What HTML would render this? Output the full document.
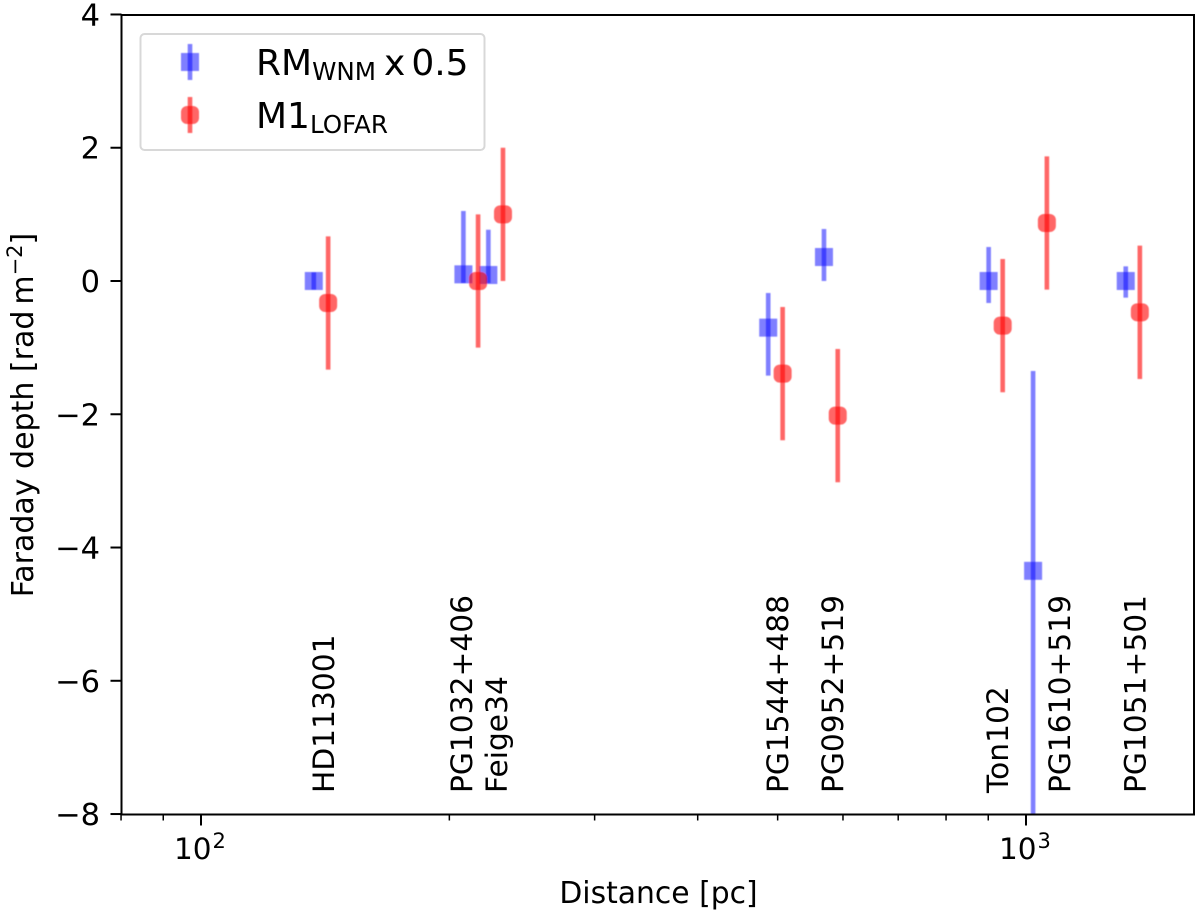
<!DOCTYPE html>
<html lang="en">
<head>
<meta charset="utf-8">
<title>Faraday depth vs distance</title>
<style>
html,body{margin:0;padding:0;background:#fff;width:1200px;height:915px;overflow:hidden}
svg{display:block;font-family:"DejaVu Sans","Liberation Sans",sans-serif}
</style>
</head>
<body>
<svg id="chart" width="1200" height="915" viewBox="0 0 1200 915" xmlns="http://www.w3.org/2000/svg">
  <defs><filter id="soft" filterUnits="userSpaceOnUse" x="0" y="0" width="1200" height="915"><feGaussianBlur stdDeviation="0.45"/></filter></defs>
  <g id="marks" filter="url(#soft)"></g>
  <g id="labels"></g>
  <g id="axes"></g>
  <g id="legend"></g>
</svg>
<script>
const sources = ['HD113001','PG1032+406','Feige34','PG1544+488','PG0952+519','Ton102','PG1610+519','PG1051+501'];
const blueDistance = [137, 208, 223, 487, 569, 901, 1020, 1321];
const blueValue = [0.0, 0.1, 0.09, -0.7, 0.36, 0.0, -4.35, 0.0];
const blueLow = [-0.13, -0.03, -0.03, -1.42, 0.0, -0.33, -9, -0.25];
const blueHigh = [0.13, 1.05, 0.77, -0.18, 0.78, 0.51, -1.35, 0.22];
const redDistance = [142.6, 216.7, 232.3, 507, 591.3, 937, 1060, 1374];
const redValue = [-0.33, 0.0, 1.0, -1.39, -2.02, -0.67, 0.87, -0.47];
const redError = [1, 1, 1, 1, 1, 1, 1, 1];
const labelOffset = [20, 8.6, 18.6, 20, 19, 19.4, 37, 20];
const yTicks = [4, 2, 0, -2, -4, -6, -8];
const xMajorTicks = [100, 1000];
const xMajorLabels = ['2', '3'];
const xMinorTicks = [80, 90, 200, 300, 400, 500, 600, 700, 800, 900];

const NS = 'http://www.w3.org/2000/svg';
const L = 121.5, R = 1194, T = 15, B = 814.5;
const xScale = d => 201 + 825 * (Math.log10(d) - 2);
const yScale = v => 281 - 66.63 * v;
function make(tag, attrs, parent, text) {
  const el = document.createElementNS(NS, tag);
  for (const k in attrs) el.setAttribute(k, attrs[k]);
  if (text !== undefined) el.textContent = text;
  parent.appendChild(el);
  return el;
}
const marks = document.getElementById('marks');
const labels = document.getElementById('labels');
const axes = document.getElementById('axes');
const legend = document.getElementById('legend');
const clipBottom = v => Math.min(yScale(v), B);

blueDistance.forEach((d, i) => {
  const x = xScale(d);
  const bar = make('line', {x1: x, x2: x, y1: clipBottom(blueLow[i]), y2: yScale(blueHigh[i]), stroke: '#0000ff', 'stroke-opacity': 0.5, 'stroke-width': 4.6}, marks);
  
  
  const pt = make('rect', {x: x - 9, y: yScale(blueValue[i]) - 9, width: 18, height: 18, fill: '#0000ff', 'fill-opacity': 0.5}, marks);
  
  
});
redDistance.forEach((d, i) => {
  const x = xScale(d);
  const bar = make('line', {x1: x, x2: x, y1: yScale(redValue[i] - redError[i]), y2: yScale(redValue[i] + redError[i]), stroke: '#ff0000', 'stroke-opacity': 0.6, 'stroke-width': 4.6}, marks);
  
  
  const pt = make('rect', {x: x - 9, y: yScale(redValue[i]) - 9, width: 18, height: 18, rx: 6, ry: 6, fill: '#ff0000', 'fill-opacity': 0.6}, marks);
  
  
});
sources.forEach((s, i) => {
  const x = xScale(blueDistance[i]) + labelOffset[i];
  const t = make('text', {transform: `translate(${x} 793) rotate(-90)`, 'font-size': 29.7, fill: '#000'}, labels, s);
  
  
});

const frame = make('rect', {x: L, y: T, width: R - L, height: B - T, fill: 'none', stroke: '#000', 'stroke-width': 2}, axes);



yTicks.forEach(v => {
  const y = yScale(v);
  const tick = make('line', {x1: L - 11, x2: L, y1: y, y2: y, stroke: '#000', 'stroke-width': 2}, axes);
  
  
  const lab = make('text', {x: 100, y: y + 11, 'text-anchor': 'end', 'font-size': 30.5, fill: '#000'}, axes, v < 0 ? '\u2212' + Math.abs(v) : String(v));
  
  
});
xMajorTicks.forEach((d, i) => {
  const x = xScale(d);
  const tick = make('line', {x1: x, x2: x, y1: B, y2: B + 11, stroke: '#000', 'stroke-width': 2}, axes);
  
  
  const lab = make('text', {x: x - 27, y: 859, 'font-size': 29.5, fill: '#000'}, axes, '10');
  
  
  const sup = make('text', {x: x + 11.5, y: 848, 'font-size': 21, fill: '#000'}, axes, xMajorLabels[i]);
  
  
});
xMinorTicks.forEach(d => {
  const x = xScale(d);
  const tick = make('line', {x1: x, x2: x, y1: B, y2: B + 6, stroke: '#000', 'stroke-width': 1.5}, axes);
  
  
});

const xTitle = make('text', {x: 658.5, y: 903, 'text-anchor': 'middle', 'font-size': 29.8, fill: '#000'}, axes, 'Distance [pc]');



const yTitle = make('text', {transform: 'translate(33 415) rotate(-90)', 'text-anchor': 'middle', 'font-size': 30, fill: '#000'}, axes);


make('tspan', {}, yTitle, 'Faraday depth [rad\u2009m');
make('tspan', {dy: -11, 'font-size': 21}, yTitle, '\u22122');
make('tspan', {dy: 11}, yTitle, ']');

const box = make('rect', {x: 140.5, y: 34, width: 344, height: 116, rx: 4, ry: 4, fill: '#fff', stroke: '#d8d8d8', 'stroke-width': 2}, legend);



const lb1 = make('line', {x1: 190, x2: 190, y1: 44, y2: 80, stroke: '#0000ff', 'stroke-opacity': 0.5, 'stroke-width': 4.6, filter: 'url(#soft)'}, legend);


const lm1 = make('rect', {x: 181, y: 53, width: 18, height: 18, fill: '#0000ff', 'fill-opacity': 0.5, filter: 'url(#soft)'}, legend);


const lb2 = make('line', {x1: 190, x2: 190, y1: 97, y2: 133, stroke: '#ff0000', 'stroke-opacity': 0.6, 'stroke-width': 4.6, filter: 'url(#soft)'}, legend);


const lm2 = make('rect', {x: 181, y: 106, width: 18, height: 18, rx: 6, ry: 6, fill: '#ff0000', 'fill-opacity': 0.6, filter: 'url(#soft)'}, legend);



const lt1 = make('text', {x: 256, y: 75, 'font-size': 36, fill: '#000'}, legend);


make('tspan', {}, lt1, 'RM');
make('tspan', {dy: 5, 'font-size': 24.6}, lt1, 'WNM');
make('tspan', {dy: -5, dx: 8}, lt1, 'x');
make('tspan', {dx: 6}, lt1, '0.5');

const lt2 = make('text', {x: 256, y: 128, 'font-size': 36, fill: '#000'}, legend);


make('tspan', {}, lt2, 'M1');
make('tspan', {dy: 5, 'font-size': 24.6}, lt2, 'LOFAR');
</script>
</body>
</html>
